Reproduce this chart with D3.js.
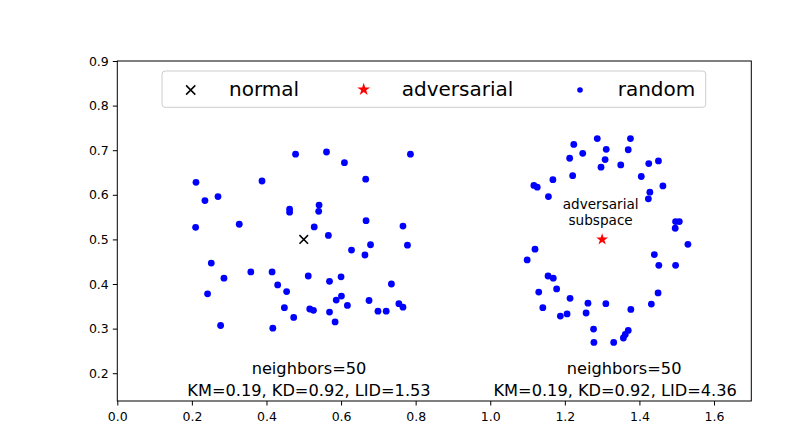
<!DOCTYPE html>
<html>
<head>
<meta charset="utf-8">
<script src="https://cdn.jsdelivr.net/npm/d3@7"></script>
<style>
  html, body { margin: 0; padding: 0; background: #fff; }
  svg text { font-family: "DejaVu Sans", sans-serif; }
</style>
</head>
<body>
<svg id="chart" width="808" height="443"></svg>
<script>
// ---- data ----
const normalPoint = [[0.5, 0.5]];
const adversarialPoint = [[1.3, 0.5]];
const randomLeftX = [0.211,0.235,0.270,0.210,0.327,0.388,0.478,0.561,0.609,0.666,0.786,0.462,0.462,0.541,0.540,0.528,0.566,0.667,0.766,0.679,0.778,0.628,
  0.664,0.252,0.286,0.242,0.277,0.358,0.415,0.430,0.454,0.448,0.473,0.417,0.512,0.569,0.600,0.601,0.587,0.617,0.516,0.526,0.569,0.584,0.675,0.699,0.721,0.735,0.755,0.766];
const randomLeftY = [0.628,0.587,0.596,0.527,0.534,0.631,0.691,0.696,0.672,0.635,0.691,0.568,0.561,0.577,0.563,0.528,0.509,0.542,0.530,0.488,0.487,0.476,
  0.465,0.447,0.413,0.378,0.307,0.427,0.427,0.398,0.383,0.347,0.325,0.301,0.418,0.406,0.416,0.373,0.364,0.352,0.344,0.341,0.337,0.315,0.363,0.339,0.339,0.400,0.356,0.348];
const randomRightX = [1.287,1.376,1.224,1.311,1.370,1.248,1.213,1.308,1.451,1.425,1.350,1.297,1.221,1.405,1.168,1.117,1.126,1.463,1.428,1.424,1.156,1.497,1.507,1.496,1.530,1.120,
  1.099,1.440,1.452,1.497,1.155,1.169,1.130,1.178,1.214,1.141,1.188,1.206,1.262,1.257,1.310,1.377,1.432,1.450,1.277,1.278,1.331,1.357,1.362,1.370];
const randomRightY = [0.726,0.726,0.713,0.702,0.701,0.693,0.682,0.679,0.676,0.670,0.667,0.662,0.643,0.641,0.634,0.621,0.617,0.620,0.606,0.591,0.596,0.540,0.540,0.525,0.489,0.478,
  0.454,0.466,0.442,0.442,0.418,0.413,0.382,0.389,0.368,0.347,0.328,0.333,0.357,0.335,0.356,0.343,0.355,0.380,0.299,0.269,0.269,0.279,0.287,0.296];
const xTicks = [0.0,0.2,0.4,0.6,0.8,1.0,1.2,1.4,1.6];
const yTicks = [0.2,0.3,0.4,0.5,0.6,0.7,0.8,0.9];
const legendLabels = ["normal","adversarial","random"];
const annotations = [
  {x: 0.514, y: 0.2, text: "neighbors=50", line: 0},
  {x: 0.514, y: 0.2, text: "KM=0.19, KD=0.92, LID=1.53", line: 1},
  {x: 1.359, y: 0.2, text: "neighbors=50", line: 0},
  {x: 1.335, y: 0.2, text: "KM=0.19, KD=0.92, LID=4.36", line: 1}
];
const subspaceLabel = ["adversarial", "subspace"];

// ---- layout ----
const W = 808, H = 443;
const L = 117.3, R = 751.3, T = 61, B = 401;
const svg = d3.select("#chart");
const x = d3.scaleLinear().domain([0, 1.7]).range([L, R]);
const y = d3.scaleLinear().domain([0.1377, 0.9]).range([B, T]);

// axes
const xAxis = d3.axisBottom(x).tickValues(xTicks).tickFormat(d3.format(".1f")).tickSize(4.5).tickPadding(6.5);
const yAxis = d3.axisLeft(y).tickValues(yTicks).tickFormat(d3.format(".1f")).tickSize(4.5).tickPadding(4);
const gx = svg.append("g").attr("transform", `translate(0,${B})`).call(xAxis);
const gy = svg.append("g").attr("transform", `translate(${L},0)`).call(yAxis);
[gx, gy].forEach(g => {
  g.select(".domain").remove();
  g.selectAll(".tick line").attr("stroke", "#000").attr("stroke-width", 1);
  g.selectAll(".tick text").attr("fill", "#000").style("font-size", "12.5px").style("font-family", "DejaVu Sans");
});

// frame
svg.append("rect").attr("x", L).attr("y", T).attr("width", R - L).attr("height", B - T)
  .attr("fill", "none").attr("stroke", "#000").attr("stroke-width", 1);

// star path (matplotlib-like 5 point star)
function starPath(r) {
  const inner = r * 0.381966;
  const pts = [];
  for (let i = 0; i < 10; i++) {
    const rr = i % 2 === 0 ? r : inner;
    const a = -Math.PI / 2 + i * Math.PI / 5;
    pts.push([rr * Math.cos(a), rr * Math.sin(a)]);
  }
  return "M" + pts.map(p => p[0].toFixed(2) + "," + p[1].toFixed(2)).join("L") + "Z";
}
function crossPath(h) {
  return `M${-h},${-h}L${h},${h}M${-h},${h}L${h},${-h}`;
}

// random points
const plotG = svg.append("g");
const randL = randomLeftX.map((v, i) => [v, randomLeftY[i]]);
const randR = randomRightX.map((v, i) => [v, randomRightY[i]]);
plotG.selectAll("circle.r").data(randL.concat(randR)).enter().append("circle")
  .attr("cx", d => x(d[0])).attr("cy", d => y(d[1])).attr("r", 3.4).attr("fill", "#0000ff");

// normal
plotG.selectAll("path.n").data(normalPoint).enter().append("path")
  .attr("transform", d => `translate(${x(d[0])},${y(d[1])})`)
  .attr("d", crossPath(4.3)).attr("stroke", "#000").attr("stroke-width", 1.5).attr("fill", "none");

// adversarial
plotG.selectAll("path.a").data(adversarialPoint).enter().append("path")
  .attr("transform", d => `translate(${x(d[0])},${y(d[1])})`)
  .attr("d", starPath(6.2)).attr("fill", "#ff0000");

// annotations
svg.selectAll("text.ann").data(annotations).enter().append("text")
  .attr("x", d => x(d.x)).attr("y", d => d.line === 0 ? 374 : 395.5)
  .attr("text-anchor", "middle").style("font-size", "16.2px").attr("fill", "#000")
  .text(d => d.text);

svg.selectAll("text.sub").data(subspaceLabel).enter().append("text")
  .attr("x", x(1.296)).attr("y", (d, i) => i === 0 ? 208.7 : 225)
  .attr("text-anchor", "middle").style("font-size", "13.6px").attr("fill", "#000")
  .text(d => d);

// legend
const lg = svg.append("g");
lg.append("rect").attr("x", 162).attr("y", 71).attr("width", 705.7 - 162).attr("height", 36.3)
  .attr("rx", 3).attr("ry", 3).attr("fill", "#fff").attr("fill-opacity", 0.8)
  .attr("stroke", "#cccccc").attr("stroke-width", 1);
const legendItems = [
  {mx: 190.7, tx: 229, kind: "x"},
  {mx: 363.7, tx: 401.7, kind: "star"},
  {mx: 580, tx: 617.7, kind: "dot"}
];
legendItems.forEach((it, i) => {
  if (it.kind === "x") {
    lg.append("path").attr("transform", `translate(${it.mx},90)`).attr("d", crossPath(4.6))
      .attr("stroke", "#000").attr("stroke-width", 1.5).attr("fill", "none");
  } else if (it.kind === "star") {
    lg.append("path").attr("transform", `translate(${it.mx},89.5)`).attr("d", starPath(6.8)).attr("fill", "#ff0000");
  } else {
    lg.append("circle").attr("cx", it.mx).attr("cy", 90).attr("r", 2.8).attr("fill", "#0000ff");
  }
  lg.append("text").attr("x", it.tx).attr("y", 95.5).style("font-size", "20px").attr("fill", "#000")
    .text(legendLabels[i]);
});
</script>
</body>
</html>
